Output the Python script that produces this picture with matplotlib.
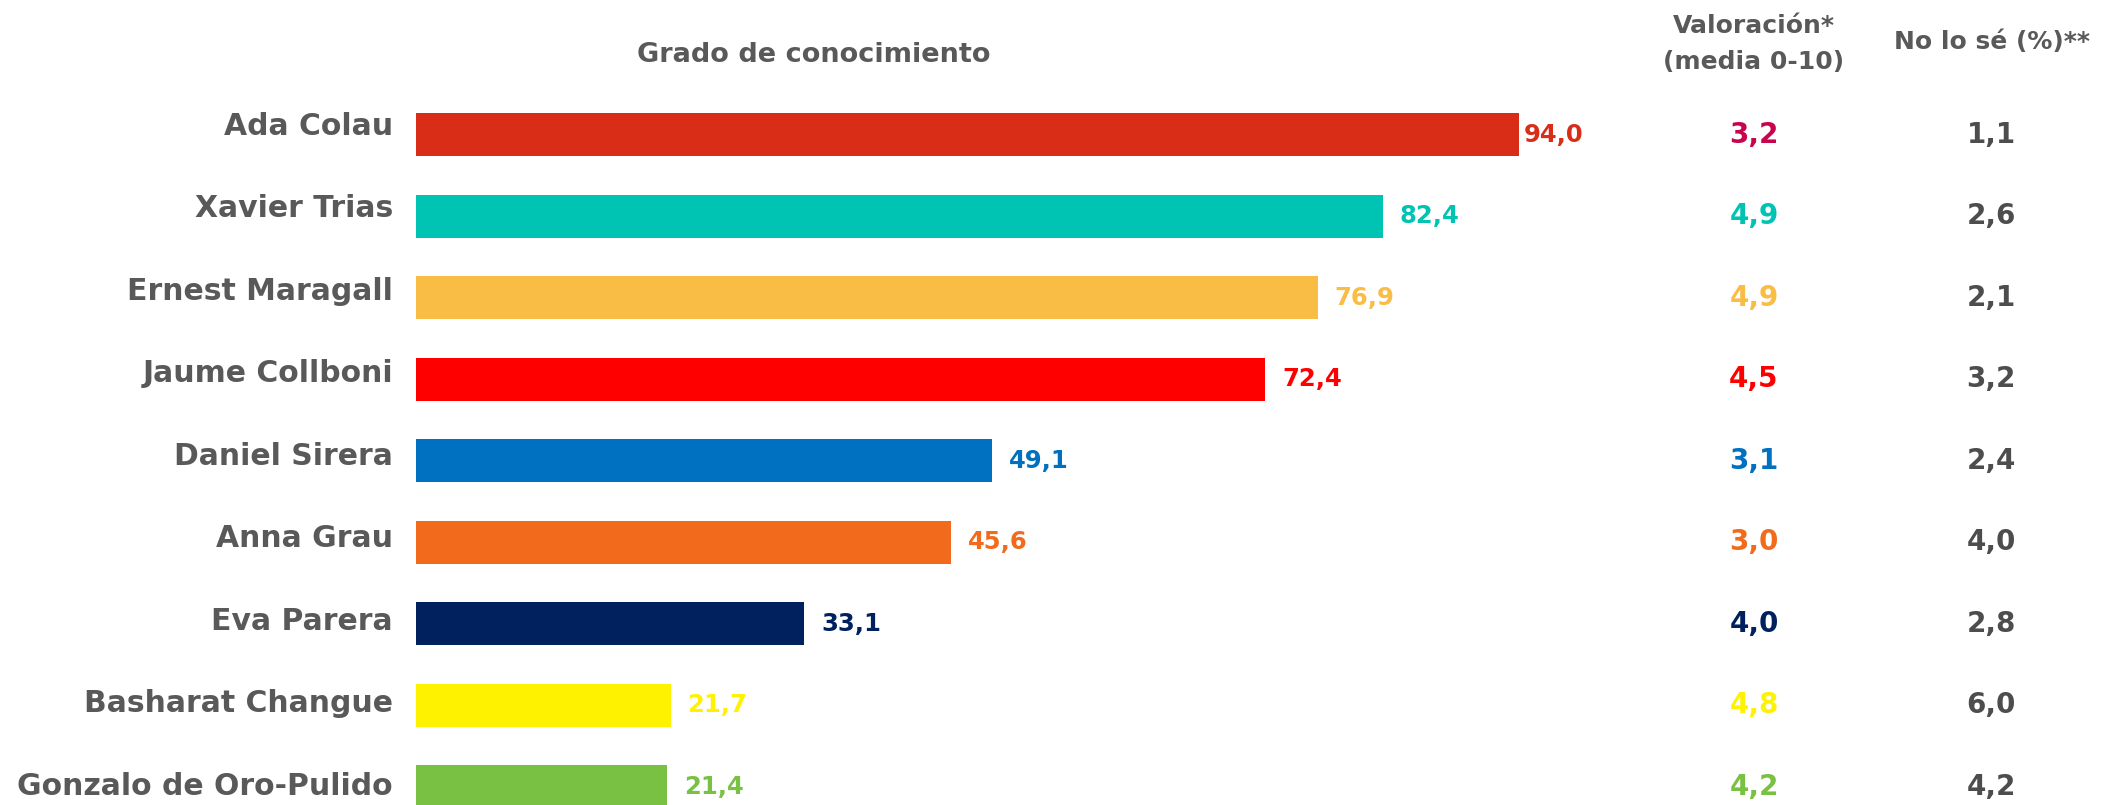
import numpy as np
import matplotlib.pyplot as plt
from matplotlib.transforms import blended_transform_factory

# datos del gráfico
nombres = ["Ada Colau", "Xavier Trias", "Ernest Maragall", "Jaume Collboni", "Daniel Sirera",
           "Anna Grau", "Eva Parera", "Basharat Changue", "Gonzalo de Oro-Pulido"]
conocimiento = [94.0, 82.4, 76.9, 72.4, 49.1, 45.6, 33.1, 21.7, 21.4]
valoracion = [3.2, 4.9, 4.9, 4.5, 3.1, 3.0, 4.0, 4.8, 4.2]
no_lo_se = [1.1, 2.6, 2.1, 3.2, 2.4, 4.0, 2.8, 6.0, 4.2]

colores = ["#DA2D18", "#00C4B3", "#F9BC45", "#FF0000", "#0070C0",
           "#F26A1B", "#00215E", "#FFF200", "#78C143"]
colores_val = ["#C9044F"] + colores[1:]

gris = "#595959"
gris_osc = "#4D4D4D"

plt.rcParams['font.family'] = ['DejaVu Sans']
plt.rcParams['font.weight'] = 'bold'

W, H = 2103, 805
fig = plt.figure(figsize=(W / 100, H / 100), dpi=100)
x0 = 416
escala = 11.73  # px por unidad
ax = fig.add_axes([x0 / W, 0, 1 - x0 / W, 1])
ax.set_xlim(0, (W - x0) / escala)
paso = 81.5
ax.set_ylim((H - 134.5) / paso, -134.5 / paso)
ax.axis('off')

filas = np.arange(len(nombres))
ax.barh(filas, conocimiento, height=43 / paso, color=colores)

def fmt(v):
    return f"{v:.1f}".replace(".", ",")

for i, v in enumerate(conocimiento):
    off = 4 if v == max(conocimiento) else 12
    ax.annotate(fmt(v), (v, i), xytext=(off, 0), textcoords='offset points',
                ha='left', va='center', color=colores[i], fontsize=17.5, fontweight='bold')

# nombres
tr_nom = blended_transform_factory(fig.transFigure, ax.transData)
for i, n in enumerate(nombres):
    y = i * 82.5 / paso - 8.5 / paso
    ax.text(393 / W, y, n, transform=tr_nom, ha='right', va='center',
            color=gris, fontsize=21.5, fontweight='bold')

# columnas de la derecha
for i in range(len(nombres)):
    ax.text(1754 / W, i, fmt(valoracion[i]), transform=tr_nom, ha='center', va='center',
            color=colores_val[i], fontsize=20, fontweight='bold')
    ax.text(1991 / W, i, fmt(no_lo_se[i]), transform=tr_nom, ha='center', va='center',
            color=gris_osc, fontsize=20, fontweight='bold')

# cabeceras
fig.text(814 / W, 1 - 55 / H, "Grado de conocimiento", ha='center', va='center',
         color=gris, fontsize=19.5, fontweight='bold')
fig.text(1754 / W, 1 - 44 / H, "Valoración*\n(media 0-10)", ha='center', va='center',
         color=gris, fontsize=18, fontweight='bold', linespacing=1.6)
fig.text(1992 / W, 1 - 42 / H, "No lo sé (%)**", ha='center', va='center',
         color=gris, fontsize=18, fontweight='bold')

fig.savefig("out.png", dpi=100)
